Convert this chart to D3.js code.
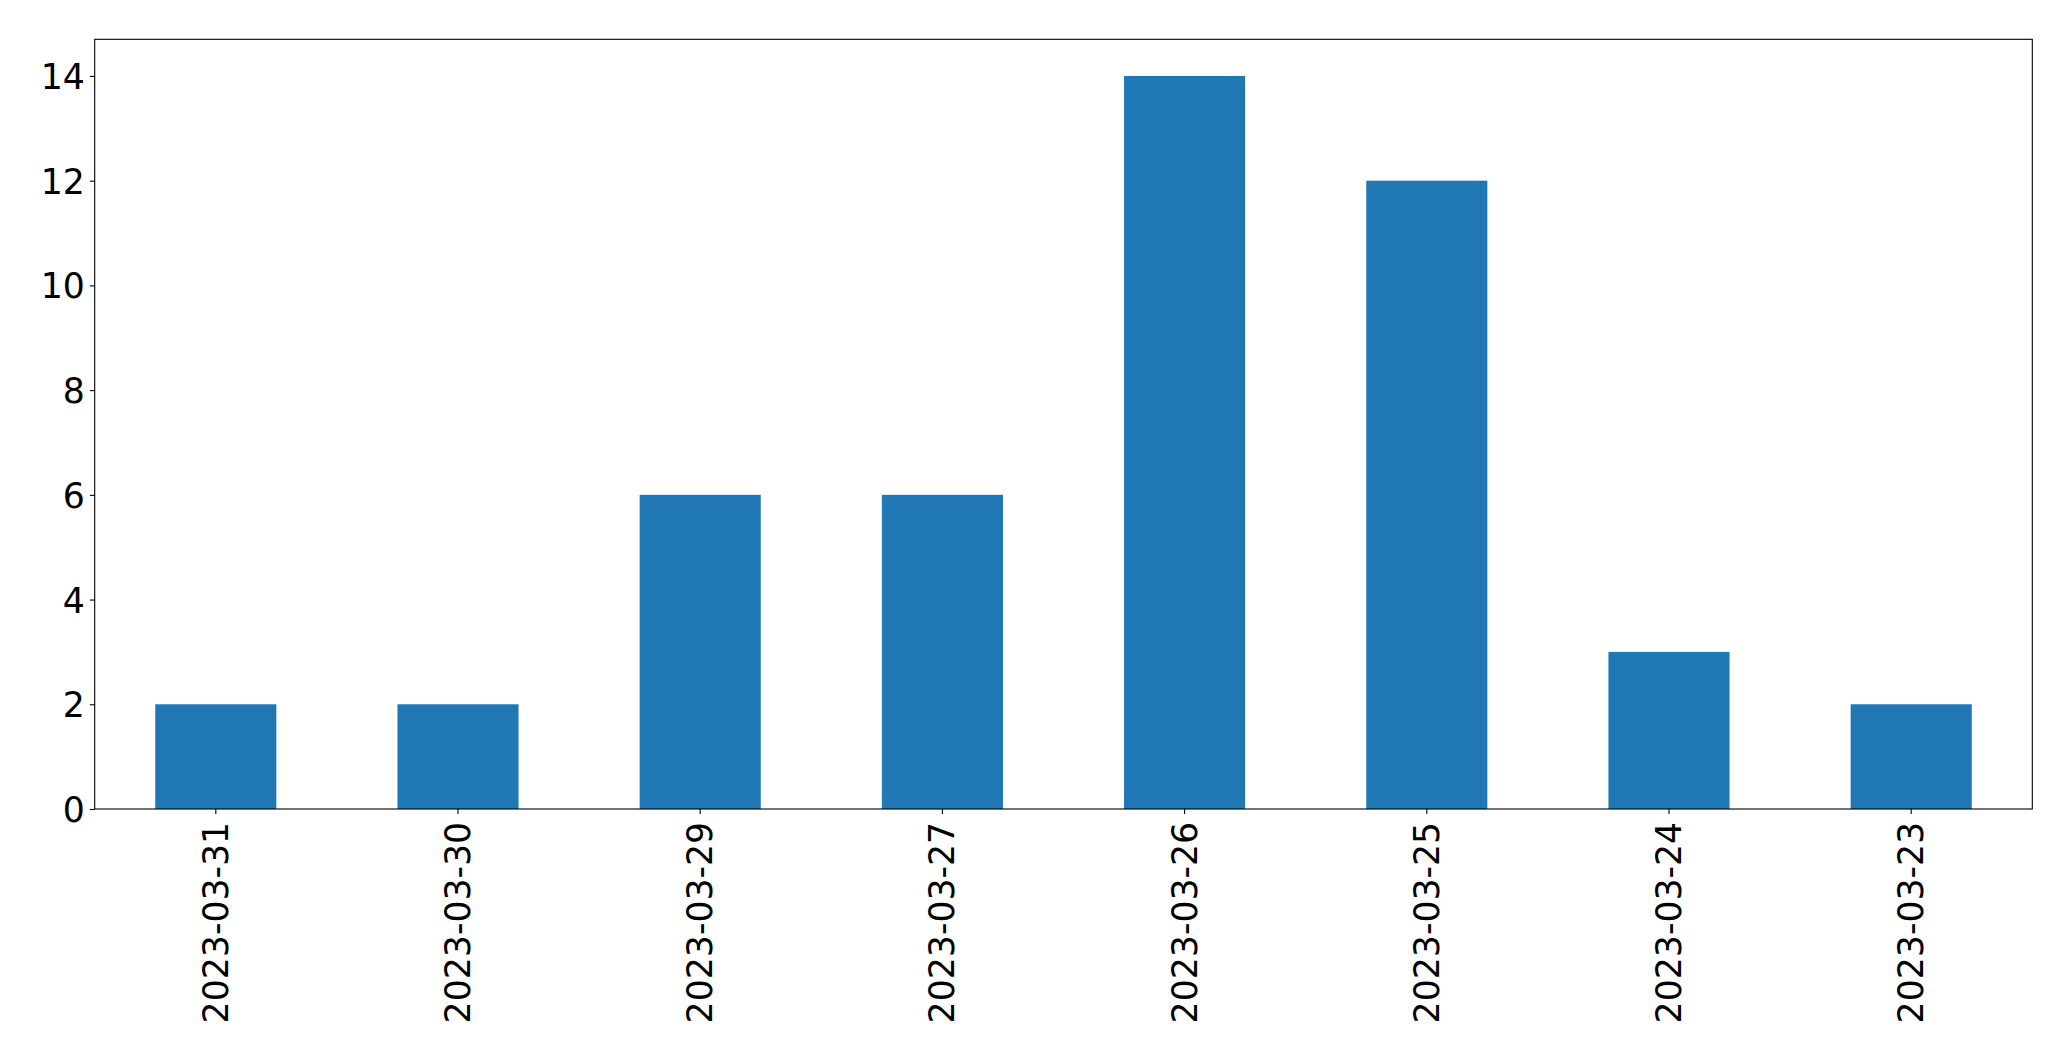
<!DOCTYPE html>
<html>
<head>
<meta charset="utf-8">
<script src="https://cdn.jsdelivr.net/npm/d3@7"></script>
<style>
  body { margin: 0; background: #fff; }
  text { font-family: "DejaVu Sans", sans-serif; }
</style>
</head>
<body>
<svg id="chart" width="2071" height="1061"></svg>
<script>
const categories = ["2023-03-31", "2023-03-30", "2023-03-29", "2023-03-27", "2023-03-26", "2023-03-25", "2023-03-24", "2023-03-23"];
const values = [2, 2, 6, 6, 14, 12, 3, 2];
const yTicks = [0, 2, 4, 6, 8, 10, 12, 14];

(function () {
const W = 2071, H = 1061;
const mLeft = 94.7, mRight = 2032.3, mTop = 39.3, mBottom = 809;
const fontSize = 34.7;
const tickLen = 4.9, pad = 4.9;

const svg = d3.select("#chart");
svg.append("rect").attr("width", W).attr("height", H).attr("fill", "#fff");

const x = d3.scaleBand().domain(categories).range([mLeft, mRight]).paddingInner(0.5).paddingOuter(0.25);
const y = d3.scaleLinear().domain([0, 14.7]).range([mBottom, mTop]);

svg.append("g").selectAll("rect").data(values).join("rect")
  .attr("x", (d, i) => x(categories[i]))
  .attr("width", x.bandwidth())
  .attr("y", d => y(d))
  .attr("height", d => y(0) - y(d))
  .attr("fill", "#1f77b4");

// Y axis
const yAxis = d3.axisLeft(y).tickValues(yTicks).tickSize(tickLen).tickPadding(pad).tickFormat(d3.format("d"));
const gy = svg.append("g").attr("transform", `translate(${mLeft},0)`).call(yAxis);
gy.select(".domain").remove();
gy.selectAll(".tick line").attr("stroke", "#000").attr("stroke-width", 1.1);
gy.selectAll(".tick text").attr("font-size", fontSize).attr("fill", "#000")
  .attr("font-family", "DejaVu Sans, sans-serif").attr("dy", "0.36em");

// X axis
const xAxis = d3.axisBottom(x).tickSize(tickLen).tickPadding(pad);
const gx = svg.append("g").attr("transform", `translate(0,${mBottom})`).call(xAxis);
gx.select(".domain").remove();
gx.selectAll(".tick line").attr("stroke", "#000").attr("stroke-width", 1.1);
gx.selectAll(".tick text")
  .attr("font-size", fontSize).attr("fill", "#000")
  .attr("font-family", "DejaVu Sans, sans-serif")
  .attr("text-anchor", "end")
  .attr("dy", null)
  .attr("y", null)
  .attr("transform", `translate(0,${tickLen + pad + 3}) rotate(-90)`)
  .attr("dominant-baseline", "central");

// Frame
svg.append("rect")
  .attr("x", mLeft).attr("y", mTop)
  .attr("width", mRight - mLeft).attr("height", mBottom - mTop)
  .attr("fill", "none").attr("stroke", "#000").attr("stroke-width", 1.1);
})();
</script>
</body>
</html>
